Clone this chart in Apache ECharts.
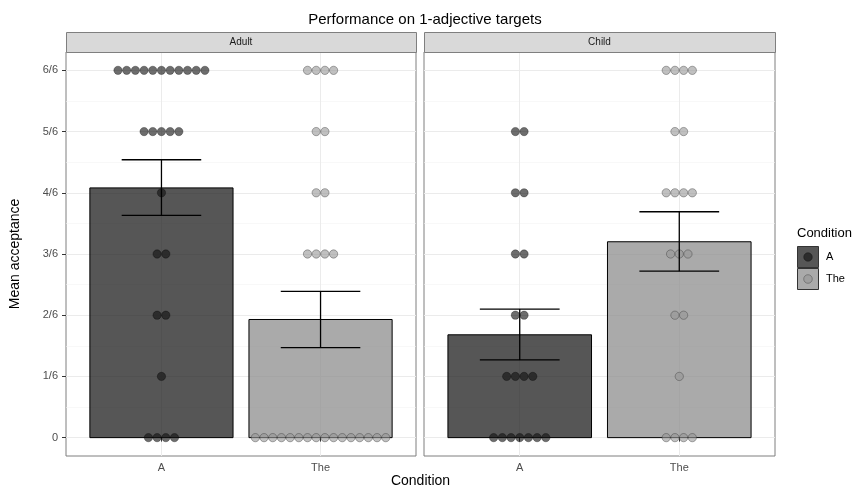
<!DOCTYPE html>
<html><head><meta charset="utf-8">
<script src="https://cdn.jsdelivr.net/npm/echarts@6/dist/echarts.min.js"></script>
<style>html,body{margin:0;padding:0;background:#fff}#c{width:857px;height:491px}</style>
</head><body><div id="c"></div>
<script>
// ---- data ----
const panels = ['Adult', 'Child'];
const categories = ['A', 'The'];
const yTickLabels = ['0', '1/6', '2/6', '3/6', '4/6', '5/6', '6/6'];
// number of participants at each response level 0..6 (out of 6)
const adultA_counts   = [4, 1, 2, 2, 1, 5, 11];
const adultThe_counts = [16, 0, 0, 4, 2, 2, 4];
const childA_counts   = [7, 4, 2, 2, 2, 2, 0];
const childThe_counts = [4, 1, 2, 3, 4, 2, 4];
// mean acceptance (in sixths) and error bar bounds, per condition [A, The]
const adultMeans = [4.08, 1.93];
const adultLower = [3.63, 1.47];
const adultUpper = [4.54, 2.39];
const childMeans = [1.68, 3.20];
const childLower = [1.27, 2.72];
const childUpper = [2.10, 3.69];

// ---- styles ----
const barFill = ['rgba(30,30,30,0.75)', 'rgba(142,142,142,0.75)'];
const dotFill = ['rgba(20,20,20,0.62)', 'rgba(150,150,150,0.6)'];
const dotStroke = ['rgba(0,0,0,0.45)', 'rgba(60,60,60,0.6)'];
const dotDiam = 0.142; // in y data units (bin width)
const FONT = 'Liberation Sans, Arial, Helvetica, sans-serif';

const chart = echarts.init(document.getElementById('c'), null, {renderer: 'canvas'});

const tickVals = yTickLabels.map((_, i) => i);
const minorVals = tickVals.slice(0, -1).map(v => v + 0.5);
const catVals = categories.map((_, i) => i + 1);

const panelData = [
  {counts: [adultA_counts, adultThe_counts], means: adultMeans, lo: adultLower, hi: adultUpper},
  {counts: [childA_counts, childThe_counts], means: childMeans, lo: childLower, hi: childUpper}
];

const grids = [
  {left: 66, top: 52, width: 350, height: 404},
  {left: 424, top: 52, width: 351, height: 404}
];

const xAxes = [], yAxes = [], series = [];
panelData.forEach((pd, g) => {
  grids[g].show = true;
  grids[g].borderColor = '#7f7f7f';
  grids[g].borderWidth = 1;
  grids[g].backgroundColor = 'transparent';
  xAxes.push({
    type: 'value', gridIndex: g, min: 0.4, max: 2.6,
    axisLine: {show: false},
    axisTick: {show: true, customValues: catVals, length: 4, lineStyle: {color: '#333'}},
    axisLabel: {customValues: catVals, formatter: v => categories[Math.round(v) - 1],
      color: '#4d4d4d', fontSize: 11, fontFamily: FONT, margin: 6},
    splitLine: {show: true, lineStyle: {color: '#ebebeb', width: 1}}
  });
  yAxes.push({
    type: 'value', gridIndex: g, min: -0.3, max: 6.3,
    axisLine: {show: false},
    axisTick: {show: g === 0, customValues: tickVals, length: 4, lineStyle: {color: '#333'}},
    axisLabel: {show: g === 0, customValues: tickVals, formatter: v => yTickLabels[Math.round(v)],
      color: '#4d4d4d', fontSize: 11, fontFamily: FONT, margin: 8},
    splitLine: {show: true, lineStyle: {color: '#ebebeb', width: 1}}
  });
  yAxes.push({
    type: 'value', gridIndex: g, min: -0.3, max: 6.3, position: 'left',
    axisLine: {show: false},
    axisTick: {show: false, customValues: minorVals},
    axisLabel: {show: false, customValues: minorVals},
    splitLine: {show: true, lineStyle: {color: '#f4f4f4', width: 0.6}}
  });
  const yi = g * 2;

  // bars
  series.push({
    type: 'custom', xAxisIndex: g, yAxisIndex: yi, z: 2,
    data: pd.means.map((m, c) => [c + 1, m, c]),
    renderItem: (params, api) => {
      const x = api.value(0), m = api.value(1), c = api.value(2);
      const p0 = api.coord([x - 0.45, 0]);
      const p1 = api.coord([x + 0.45, m]);
      return {type: 'rect', shape: {x: p0[0], y: p1[1], width: p1[0] - p0[0], height: p0[1] - p1[1]},
        style: {fill: barFill[c], stroke: '#000', lineWidth: 1}};
    }
  });

  // dots
  const dots = [];
  pd.counts.forEach((cnt, c) => {
    cnt.forEach((n, level) => {
      for (let i = 0; i < n; i++) dots.push([c + 1, level, i, n, c]);
    });
  });
  series.push({
    type: 'custom', xAxisIndex: g, yAxisIndex: yi, z: 3,
    data: dots,
    renderItem: (params, api) => {
      const x = api.value(0), lv = api.value(1), i = api.value(2), n = api.value(3), c = api.value(4);
      const p = api.coord([x, lv]);
      const d = api.size([0, dotDiam])[1];
      const cx = p[0] + (i - (n - 1) / 2) * d;
      return {type: 'circle', shape: {cx: cx, cy: p[1], r: d / 2 - 0.2},
        style: {fill: dotFill[c], stroke: dotStroke[c], lineWidth: 0.7}};
    }
  });

  // error bars
  series.push({
    type: 'custom', xAxisIndex: g, yAxisIndex: yi, z: 4,
    data: pd.means.map((m, c) => [c + 1, pd.lo[c], pd.hi[c]]),
    renderItem: (params, api) => {
      const x = api.value(0);
      const a = api.coord([x, api.value(1)]);
      const b = api.coord([x, api.value(2)]);
      const l = api.coord([x - 0.25, 0])[0], r = api.coord([x + 0.25, 0])[0];
      const st = {stroke: '#000', lineWidth: 1.3};
      return {type: 'group', children: [
        {type: 'line', shape: {x1: a[0], y1: a[1], x2: b[0], y2: b[1]}, style: st},
        {type: 'line', shape: {x1: l, y1: a[1], x2: r, y2: a[1]}, style: st},
        {type: 'line', shape: {x1: l, y1: b[1], x2: r, y2: b[1]}, style: st}
      ]};
    }
  });
});

const graphics = [];
// strips
[[66, 350], [424, 351]].forEach(([x, w], g) => {
  graphics.push({type: 'rect', shape: {x: x + 0.5, y: 32.5, width: w, height: 20},
    style: {fill: '#d9d9d9', stroke: '#7f7f7f', lineWidth: 1}, z: 10});
  graphics.push({type: 'text', x: x + w / 2, y: 42.5,
    style: {text: panels[g], fill: '#1a1a1a', font: '10px ' + FONT, textAlign: 'center', textVerticalAlign: 'middle'}, z: 11});
});
// axis titles
graphics.push({type: 'text', x: 420.5, y: 481,
  style: {text: 'Condition', fill: '#000', font: '14px ' + FONT, textAlign: 'center', textVerticalAlign: 'middle'}});
graphics.push({type: 'text', x: 15, y: 254, rotation: Math.PI / 2,
  style: {text: 'Mean acceptance', fill: '#000', font: '14px ' + FONT, textAlign: 'center', textVerticalAlign: 'middle'}});
// legend
graphics.push({type: 'text', x: 797, y: 233,
  style: {text: 'Condition', fill: '#000', font: '13px ' + FONT, textAlign: 'left', textVerticalAlign: 'middle'}});
categories.forEach((cat, c) => {
  const y0 = 246 + c * 22;
  graphics.push({type: 'rect', shape: {x: 797.5, y: y0 + 0.5, width: 21, height: 21},
    style: {fill: barFill[c], stroke: '#333', lineWidth: 1}});
  graphics.push({type: 'circle', shape: {cx: 808, cy: y0 + 11, r: 4.3},
    style: {fill: dotFill[c], stroke: dotStroke[c], lineWidth: 0.7}});
  graphics.push({type: 'text', x: 826, y: y0 + 11,
    style: {text: cat, fill: '#000', font: '11px ' + FONT, textAlign: 'left', textVerticalAlign: 'middle'}});
});

chart.setOption({
  animation: false,
  backgroundColor: '#fff',
  title: {text: 'Performance on 1-adjective targets', left: 420, top: 7, textAlign: 'center',
    textStyle: {fontSize: 15, fontWeight: 'normal', color: '#000', fontFamily: FONT}},
  grid: grids,
  xAxis: xAxes,
  yAxis: yAxes,
  series: series,
  graphic: graphics
});
</script>
</body></html>
